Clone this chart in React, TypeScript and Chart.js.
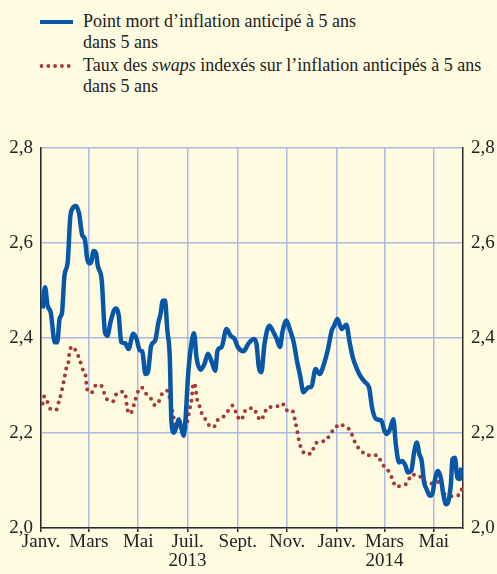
import React, { useEffect, useRef } from "react";
import { Chart, registerables } from "chart.js";
Chart.register(...registerables);

// x values are days elapsed since 1 January 2013
const blueDays = [2, 5, 8, 12, 17, 20, 23, 26, 29, 33, 36, 39, 43, 47, 51, 54, 57, 60, 62, 65, 68, 70, 75, 79, 82, 86, 92, 96, 99, 104, 108, 114, 118, 122, 125, 129, 132, 136, 141, 145, 148, 150, 153, 156, 159, 161, 164, 167, 170, 173, 176, 178, 182, 186, 189, 192, 197, 202, 206, 211, 215, 218, 223, 229, 234, 239, 243, 250, 256, 263, 266, 269, 272, 276, 282, 287, 291, 295, 298, 303, 307, 312, 316, 320, 324, 330, 334, 339, 344, 350, 354, 359, 362, 366, 371, 377, 381, 385, 390, 394, 400, 405, 409, 414, 420, 424, 427, 431, 435, 438, 442, 446, 450, 453, 457, 461, 464, 467, 470, 473, 476, 480, 483, 486, 490, 494, 496, 500, 503, 506, 508, 511, 514, 517, 519];
const blueValues = [2.462, 2.507, 2.469, 2.454, 2.391, 2.391, 2.441, 2.454, 2.532, 2.56, 2.652, 2.673, 2.678, 2.662, 2.616, 2.609, 2.567, 2.557, 2.56, 2.583, 2.578, 2.553, 2.521, 2.412, 2.405, 2.435, 2.462, 2.447, 2.391, 2.389, 2.377, 2.409, 2.398, 2.374, 2.372, 2.324, 2.328, 2.384, 2.395, 2.433, 2.454, 2.478, 2.479, 2.416, 2.359, 2.226, 2.201, 2.212, 2.229, 2.212, 2.194, 2.219, 2.331, 2.391, 2.41, 2.359, 2.333, 2.346, 2.367, 2.349, 2.331, 2.374, 2.381, 2.419, 2.405, 2.398, 2.381, 2.372, 2.388, 2.398, 2.388, 2.338, 2.328, 2.388, 2.426, 2.412, 2.398, 2.381, 2.412, 2.437, 2.419, 2.391, 2.352, 2.32, 2.286, 2.296, 2.298, 2.335, 2.324, 2.349, 2.374, 2.416, 2.426, 2.44, 2.419, 2.428, 2.391, 2.359, 2.335, 2.321, 2.307, 2.296, 2.251, 2.229, 2.227, 2.205, 2.198, 2.208, 2.229, 2.177, 2.138, 2.141, 2.131, 2.117, 2.12, 2.163, 2.18, 2.156, 2.141, 2.096, 2.082, 2.068, 2.071, 2.099, 2.12, 2.103, 2.078, 2.05, 2.057, 2.092, 2.145, 2.148, 2.106, 2.103, 2.127];

const redDays = [2, 4, 8, 12, 19, 22, 25, 27, 29, 31, 34, 35, 39, 44, 48, 51, 55, 56, 58, 63, 68, 74, 78, 82, 89, 93, 101, 105, 106, 110, 113, 116, 119, 124, 129, 136, 141, 146, 150, 156, 159, 161, 163, 165, 171, 176, 180, 182, 184, 186, 187, 188, 191, 192, 195, 198, 203, 208, 213, 218, 225, 231, 237, 241, 246, 248, 252, 256, 263, 267, 272, 276, 281, 290, 298, 303, 310, 313, 315, 317, 319, 322, 327, 335, 337, 345, 352, 357, 363, 369, 376, 381, 385, 389, 395, 402, 410, 416, 420, 424, 429, 434, 438, 446, 453, 457, 466, 472, 480, 488, 495, 498, 501, 508, 516, 520];
const redValues = [2.262, 2.277, 2.265, 2.25, 2.249, 2.266, 2.284, 2.3, 2.317, 2.335, 2.351, 2.368, 2.382, 2.369, 2.353, 2.336, 2.321, 2.305, 2.286, 2.286, 2.301, 2.3, 2.284, 2.27, 2.267, 2.282, 2.287, 2.273, 2.256, 2.24, 2.249, 2.267, 2.284, 2.296, 2.284, 2.272, 2.258, 2.268, 2.284, 2.289, 2.273, 2.255, 2.24, 2.222, 2.215, 2.205, 2.219, 2.236, 2.254, 2.272, 2.289, 2.305, 2.294, 2.277, 2.261, 2.243, 2.229, 2.215, 2.212, 2.227, 2.234, 2.247, 2.258, 2.242, 2.227, 2.229, 2.247, 2.252, 2.252, 2.236, 2.227, 2.243, 2.255, 2.255, 2.262, 2.248, 2.248, 2.232, 2.215, 2.198, 2.18, 2.165, 2.156, 2.158, 2.173, 2.182, 2.184, 2.198, 2.21, 2.219, 2.212, 2.207, 2.192, 2.175, 2.164, 2.153, 2.153, 2.153, 2.138, 2.129, 2.12, 2.103, 2.087, 2.09, 2.096, 2.112, 2.111, 2.099, 2.093, 2.097, 2.089, 2.072, 2.057, 2.068, 2.069, 2.084];

const tickDays = [0, 59, 120, 181, 243, 304, 365, 424, 485];
const tickLabels: (string | string[])[] = ["Janv.", "Mars", "Mai", ["Juil.", "2013"], "Sept.", "Nov.", "Janv.", ["Mars", "2014"], "Mai"];
const seriesNames = ["Point mort d’inflation anticipé à 5 ans dans 5 ans", "Taux des swaps indexés sur l’inflation anticipés à 5 ans dans 5 ans"];

const BG = "#FFFBE1";
const BLUE = "#0757A8";
const RED = "#A8373A";
const GRID = "#AEB8E2";
const AXIS = "#2A2A2A";
const FONT = "'Liberation Serif', 'Times New Roman', serif";

export default function App() {
  const ref = useRef<HTMLCanvasElement | null>(null);
  useEffect(() => {
    if (!ref.current) return;
    const tickFont = { family: FONT, size: 19, lineHeight: 1.0 };
    const yFmt = (v: any) => Number(v).toFixed(1).replace(".", ",");
    const chart = new Chart(ref.current, {
      type: "line",
      data: {
        datasets: [
          {
            label: seriesNames[0],
            data: blueDays.map((d, i) => ({ x: d, y: blueValues[i] })),
            borderColor: BLUE,
            borderWidth: 4.5,
            pointRadius: 0,
            cubicInterpolationMode: "monotone",
            borderJoinStyle: "round",
            order: 1,
          },
          {
            label: seriesNames[1],
            data: redDays.map((d, i) => ({ x: d, y: redValues[i] })),
            borderColor: RED,
            borderWidth: 4,
            borderDash: [0, 7],
            borderCapStyle: "round",
            pointRadius: 0,
            cubicInterpolationMode: "monotone",
            order: 2,
          },
        ],
      },
      options: {
        responsive: false,
        animation: false,
        layout: { padding: { top: 148, left: 0, right: 0, bottom: 0 } },
        plugins: { legend: { display: false }, tooltip: { enabled: false } },
        scales: {
          x: {
            type: "linear",
            min: 0,
            max: 521,
            afterBuildTicks: (s: any) => {
              s.ticks = tickDays.map((v) => ({ value: v }));
            },
            afterFit: (s: any) => {
              s.height = 46;
            },
            grid: { color: GRID, lineWidth: 1.5, drawTicks: true, tickLength: 4, tickColor: AXIS, tickWidth: 1.5 },
            border: { display: true, color: AXIS, width: 1.5 },
            ticks: {
              autoSkip: false,
              maxRotation: 0,
              padding: 1,
              color: "#222",
              font: tickFont,
              callback: (_v: any, i: number) => tickLabels[i],
            },
          },
          y: {
            position: "left",
            min: 2.0,
            max: 2.8,
            afterFit: (s: any) => {
              s.width = 41;
            },
            grid: { color: GRID, lineWidth: 1.5, drawTicks: false },
            border: { display: true, color: AXIS, width: 1.5 },
            ticks: { stepSize: 0.2, padding: 8, color: "#222", font: tickFont, callback: yFmt },
          },
          y2: {
            position: "right",
            min: 2.0,
            max: 2.8,
            afterFit: (s: any) => {
              s.width = 34;
            },
            grid: { display: false, drawTicks: false },
            border: { display: true, color: AXIS, width: 1.5 },
            ticks: { stepSize: 0.2, padding: 8, color: "#222", font: tickFont, callback: yFmt },
          },
        },
      },
    } as any);
    return () => chart.destroy();
  }, []);

  const textStyle: React.CSSProperties = {
    position: "absolute",
    left: 83,
    fontFamily: FONT,
    fontSize: 18,
    lineHeight: "21px",
    color: "#222",
    whiteSpace: "nowrap",
  };

  return (
    <div style={{ position: "absolute", left: 0, top: 0, width: 497, height: 574, background: BG, overflow: "hidden" }}>
      <div style={{ position: "absolute", left: 40, top: 20, width: 33, height: 4, background: BLUE }} />
      <div style={{ ...textStyle, top: 11 }}>
        Point mort d’inflation anticipé à 5 ans
        <br />
        dans 5 ans
      </div>
      <svg style={{ position: "absolute", left: 36, top: 60 }} width={42} height={12}>
        {[0, 1, 2, 3, 4].map((i) => (
          <circle key={i} cx={5.5 + i * 6.8} cy={6} r={1.9} fill={RED} />
        ))}
      </svg>
      <div style={{ ...textStyle, top: 55 }}>
        Taux des <i>swaps</i> indexés sur l’inflation anticipés à 5 ans
        <br />
        dans 5 ans
      </div>
      <canvas ref={ref} width={497} height={574} style={{ position: "absolute", left: 0, top: 0 }} />
    </div>
  );
}
